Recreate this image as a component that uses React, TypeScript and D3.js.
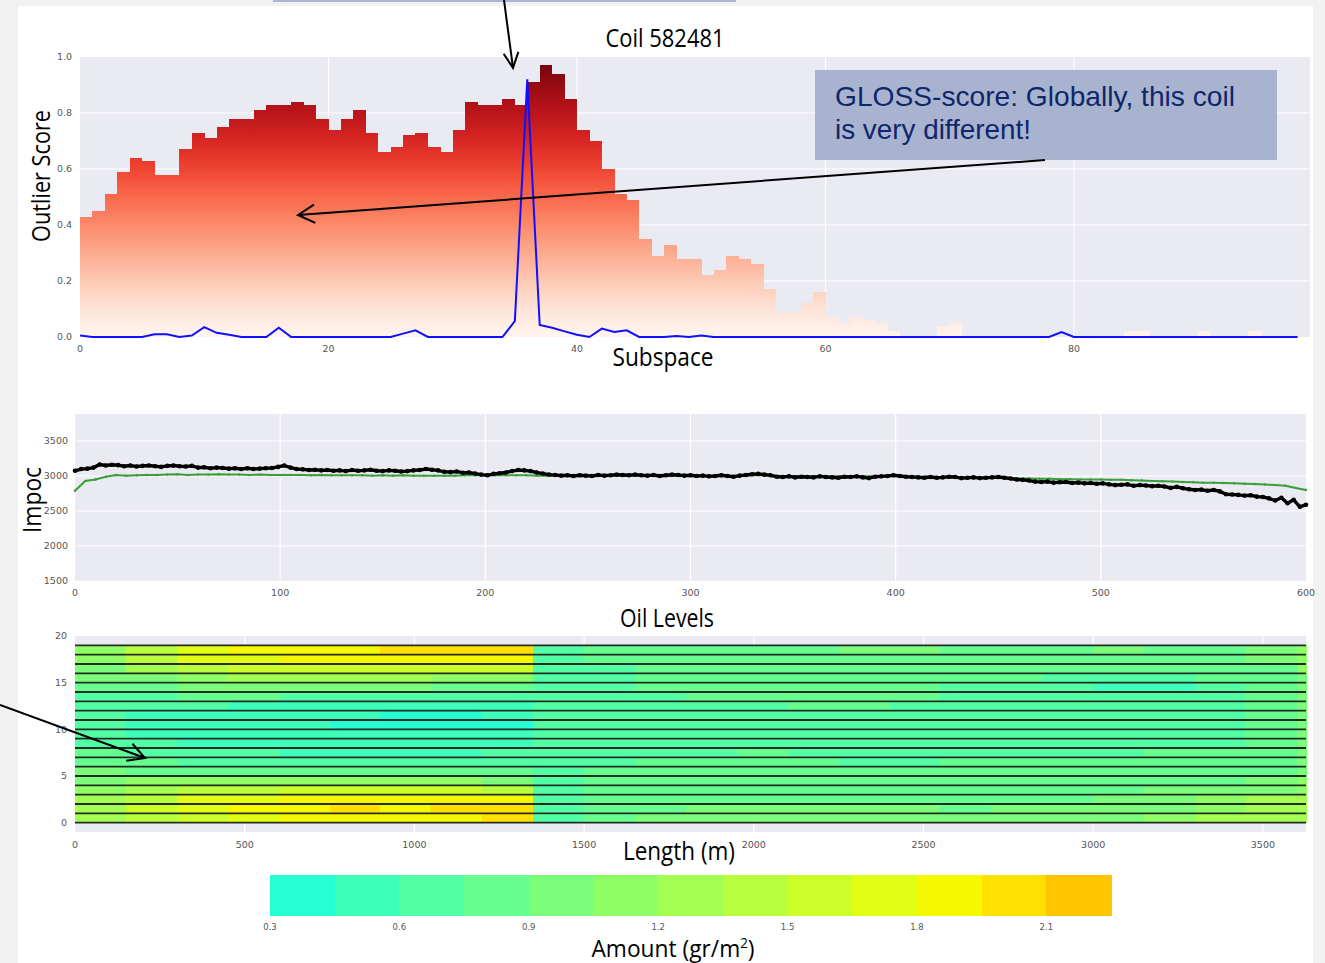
import React from 'react';
import * as d3 from 'd3';

// top panel: outlier score per subspace (bars) and single-subspace score (blue line)
const subspaceScores = [
  0.43, 0.45, 0.51, 0.59, 0.64, 0.63, 0.58, 0.58, 0.67, 0.73,
  0.71, 0.75, 0.78, 0.78, 0.81, 0.83, 0.83, 0.84, 0.83, 0.78,
  0.74, 0.78, 0.81, 0.73, 0.66, 0.68, 0.72, 0.73, 0.68, 0.66,
  0.74, 0.84, 0.83, 0.83, 0.85, 0.83, 0.91, 0.97, 0.94, 0.85,
  0.74, 0.70, 0.60, 0.51, 0.49, 0.35, 0.29, 0.33, 0.28, 0.28,
  0.22, 0.24, 0.29, 0.28, 0.26, 0.17, 0.09, 0.09, 0.12, 0.16,
  0.07, 0.05, 0.07, 0.06, 0.05, 0.02, 0.005, 0, 0, 0.04,
  0.05, 0, 0, 0, 0, 0, 0, 0, 0, 0,
  0, 0, 0, 0, 0.02, 0.02, 0, 0, 0, 0,
  0.02, 0, 0, 0, 0.02, 0, 0, 0, 0,
];
const singleScores = [
  0.005, 0, 0, 0, 0, 0, 0.01, 0.01, 0, 0.005,
  0.035, 0.015, 0.008, 0, 0, 0, 0.033, 0, 0, 0,
  0, 0, 0, 0, 0, 0, 0.012, 0.024, 0, 0,
  0, 0, 0, 0, 0, 0.057, 0.92, 0.043, 0.033, 0.02,
  0.008, 0, 0.03, 0.018, 0.024, 0, 0, 0, 0.004, 0,
  0.005, 0, 0, 0, 0, 0, 0, 0, 0, 0,
  0, 0, 0, 0, 0, 0, 0, 0, 0, 0,
  0, 0, 0, 0, 0, 0, 0, 0, 0, 0.018,
  0, 0, 0, 0, 0, 0, 0, 0, 0, 0,
  0, 0, 0, 0, 0, 0, 0, 0, 0,
];
const scoreTicks = [0, 0.2, 0.4, 0.6, 0.8, 1.0];
const subspaceTicks = [0, 20, 40, 60, 80];

// middle panel: impoc along the coil (black = this coil, green = reference)
const impocStepBlack = 3;
const impocBlack = [
  3075, 3100, 3105, 3120, 3165, 3150, 3160, 3155, 3140, 3150,
  3135, 3145, 3150, 3140, 3130, 3145, 3150, 3140, 3135, 3145,
  3120, 3125, 3110, 3120, 3115, 3105, 3110, 3100, 3110, 3100,
  3105, 3110, 3115, 3130, 3150, 3120, 3100, 3095, 3085, 3090,
  3080, 3085, 3075, 3080, 3070, 3085, 3075, 3080, 3090, 3075,
  3070, 3080, 3075, 3065, 3070, 3080, 3085, 3100, 3090, 3080,
  3060, 3055, 3065, 3045, 3050, 3035, 3020, 3010, 3030, 3040,
  3050, 3070, 3085, 3080, 3070, 3050, 3035, 3020, 3015, 3005,
  3010, 3000, 3010, 3005, 3000, 3015, 3005, 3010, 3020, 3015,
  3010, 3020, 3010, 3005, 3015, 3000, 3010, 3020, 3015, 3005,
  3010, 3000, 3005, 2995, 3000, 3010, 3000, 2990, 3005, 3015,
  3025, 3030, 3020, 3010, 2990, 2985, 2995, 2980, 2990, 2985,
  2980, 2995, 2985, 2980, 2975, 2990, 2985, 2995, 2980, 2970,
  2990, 2995, 3000, 3010, 3000, 2990, 2985, 2980, 2975, 2985,
  2975, 2980, 2990, 2985, 2970, 2975, 2980, 2970, 2975, 2980,
  2985, 2975, 2965, 2950, 2945, 2935, 2920, 2915, 2920, 2905,
  2910, 2915, 2900, 2905, 2895, 2900, 2890, 2895, 2880, 2870,
  2875, 2880, 2860, 2870, 2865, 2855, 2860, 2850, 2830, 2845,
  2825, 2810, 2800, 2805, 2790, 2800, 2780, 2740, 2735, 2730,
  2720, 2725, 2705, 2700, 2680, 2650, 2690, 2610, 2660, 2560,
  2590,
];
const impocStepGreen = 5;
const impocGreen = [
  2790, 2930, 2950, 2990, 3015, 3005, 3010, 3015, 3015, 3020,
  3025, 3015, 3020, 3020, 3025, 3020, 3020, 3015, 3020, 3015,
  3015, 3015, 3015, 3010, 3015, 3010, 3010, 3010, 3010, 3005,
  3010, 3005, 3010, 3005, 3005, 3005, 3005, 3005, 3010, 3010,
  3010, 3010, 3010, 3010, 3010, 3005, 3005, 3005, 3005, 3005,
  3005, 3005, 3005, 3005, 3005, 3005, 3005, 3005, 3000, 3000,
  3000, 3000, 3000, 3000, 3000, 3005, 3010, 3010, 3005, 3000,
  3000, 3000, 2995, 2995, 2995, 2995, 2995, 2995, 2995, 3000,
  3000, 2995, 2990, 2990, 2985, 2985, 2980, 2980, 2975, 2975,
  2970, 2970, 2965, 2965, 2960, 2960, 2955, 2955, 2950, 2950,
  2950, 2945, 2945, 2940, 2935, 2930, 2925, 2920, 2915, 2910,
  2905, 2905, 2900, 2895, 2890, 2885, 2880, 2870, 2860, 2830,
  2800,
];
const impocYTicks = [1500, 2000, 2500, 3000, 3500];
const impocXTicks = [0, 100, 200, 300, 400, 500, 600];

// bottom panel: oil amount per track (rows, bottom to top) and length segment
const lengthEdges = [
  0, 150, 300, 450, 600, 750, 900, 1050, 1200, 1350, 1500, 1650, 1800,
  1950, 2100, 2250, 2400, 2550, 2700, 2850, 3000, 3150, 3300, 3450, 3600, 3627,
];
const oilLevels = [
  [1.2, 1.4, 1.6, 1.7, 1.85, 1.9, 1.85, 1.9, 1.95, 0.65, 0.85, 0.9, 0.9, 0.9, 0.9, 0.9, 0.9, 0.9, 0.9, 0.95, 1.0, 1.1, 1.2, 1.25, 1.2],
  [1.3, 1.5, 1.7, 1.8, 1.9, 1.95, 1.9, 1.95, 2.0, 0.6, 0.8, 0.85, 0.9, 0.9, 0.9, 0.9, 0.9, 0.85, 0.9, 0.9, 0.95, 1.0, 1.15, 1.3, 1.3],
  [1.25, 1.45, 1.65, 1.75, 1.8, 1.85, 1.85, 1.85, 1.8, 0.6, 0.8, 0.85, 0.85, 0.85, 0.85, 0.85, 0.85, 0.85, 0.85, 0.85, 0.9, 0.95, 1.1, 1.2, 1.25],
  [1.15, 1.3, 1.4, 1.45, 1.5, 1.55, 1.55, 1.5, 1.45, 0.6, 0.75, 0.8, 0.85, 0.85, 0.85, 0.85, 0.85, 0.85, 0.85, 0.85, 0.85, 0.9, 0.95, 1.0, 1.15],
  [1.0, 1.05, 1.05, 1.1, 1.1, 1.1, 1.1, 1.05, 1.0, 0.6, 0.75, 0.8, 0.8, 0.8, 0.8, 0.8, 0.8, 0.8, 0.8, 0.8, 0.85, 0.85, 0.85, 0.9, 1.05],
  [0.9, 0.85, 0.8, 0.8, 0.75, 0.75, 0.75, 0.75, 0.8, 0.6, 0.75, 0.75, 0.8, 0.8, 0.8, 0.75, 0.75, 0.8, 0.8, 0.8, 0.8, 0.8, 0.8, 0.85, 1.0],
  [0.8, 0.75, 0.7, 0.65, 0.65, 0.6, 0.6, 0.6, 0.65, 0.6, 0.7, 0.75, 0.75, 0.75, 0.75, 0.7, 0.7, 0.75, 0.75, 0.75, 0.75, 0.75, 0.8, 0.8, 0.95],
  [0.75, 0.65, 0.6, 0.6, 0.55, 0.55, 0.55, 0.55, 0.6, 0.6, 0.7, 0.7, 0.7, 0.75, 0.7, 0.7, 0.7, 0.7, 0.7, 0.7, 0.7, 0.75, 0.75, 0.8, 0.95],
  [0.7, 0.6, 0.55, 0.55, 0.5, 0.5, 0.5, 0.5, 0.55, 0.6, 0.7, 0.7, 0.7, 0.7, 0.7, 0.7, 0.7, 0.7, 0.7, 0.7, 0.7, 0.7, 0.7, 0.75, 0.9],
  [0.65, 0.55, 0.5, 0.5, 0.5, 0.45, 0.45, 0.45, 0.5, 0.6, 0.65, 0.7, 0.7, 0.7, 0.7, 0.7, 0.7, 0.7, 0.7, 0.7, 0.7, 0.7, 0.7, 0.75, 0.9],
  [0.6, 0.5, 0.5, 0.45, 0.45, 0.4, 0.4, 0.4, 0.4, 0.6, 0.65, 0.65, 0.7, 0.7, 0.7, 0.7, 0.7, 0.7, 0.7, 0.7, 0.7, 0.7, 0.7, 0.75, 0.9],
  [0.6, 0.55, 0.5, 0.5, 0.45, 0.45, 0.4, 0.4, 0.45, 0.6, 0.65, 0.7, 0.7, 0.7, 0.7, 0.7, 0.7, 0.7, 0.7, 0.7, 0.7, 0.7, 0.7, 0.75, 0.9],
  [0.65, 0.6, 0.6, 0.55, 0.55, 0.5, 0.5, 0.45, 0.5, 0.6, 0.65, 0.7, 0.7, 0.7, 0.75, 0.75, 0.7, 0.7, 0.7, 0.7, 0.7, 0.7, 0.7, 0.75, 0.9],
  [0.7, 0.7, 0.75, 0.75, 0.7, 0.7, 0.65, 0.6, 0.6, 0.6, 0.7, 0.7, 0.75, 0.75, 0.75, 0.75, 0.75, 0.7, 0.7, 0.65, 0.6, 0.6, 0.65, 0.75, 0.95],
  [0.8, 0.85, 0.9, 0.95, 0.95, 0.95, 0.9, 0.85, 0.8, 0.6, 0.7, 0.75, 0.75, 0.75, 0.8, 0.75, 0.75, 0.7, 0.65, 0.6, 0.55, 0.55, 0.6, 0.75, 0.95],
  [0.9, 1.0, 1.1, 1.2, 1.2, 1.25, 1.2, 1.15, 1.1, 0.6, 0.7, 0.75, 0.8, 0.8, 0.8, 0.8, 0.8, 0.8, 0.75, 0.7, 0.7, 0.7, 0.75, 0.8, 1.0],
  [0.95, 1.2, 1.4, 1.5, 1.55, 1.6, 1.6, 1.55, 1.5, 0.6, 0.7, 0.8, 0.8, 0.8, 0.8, 0.8, 0.85, 0.8, 0.8, 0.8, 0.8, 0.8, 0.8, 0.85, 1.1],
  [1.05, 1.35, 1.65, 1.75, 1.85, 1.85, 1.85, 1.9, 1.85, 0.6, 0.75, 0.8, 0.8, 0.8, 0.85, 0.85, 0.85, 0.85, 0.8, 0.85, 0.85, 0.85, 0.8, 0.9, 1.15],
  [1.15, 1.45, 1.7, 1.8, 1.85, 1.9, 1.95, 2.0, 1.95, 0.6, 0.75, 0.8, 0.85, 0.85, 0.85, 0.9, 0.9, 0.85, 0.85, 0.85, 0.9, 0.85, 0.85, 0.9, 1.1],
];
const amountBreaks = [0.45, 0.6, 0.75, 0.9, 1.05, 1.2, 1.35, 1.5, 1.65, 1.8, 1.95, 2.1];
const amountColors = [
  '#26FFD4', '#3DFFBA', '#52FFA5', '#66FF8F', '#7BFF7B', '#8FFF66', '#A3FF52',
  '#B8FF3D', '#CCFF29', '#E0FF14', '#F4F800', '#FFE000', '#FFC500',
];
const amountTicks = [0.3, 0.6, 0.9, 1.2, 1.5, 1.8, 2.1];
const lengthTicks = [0, 500, 1000, 1500, 2000, 2500, 3000, 3500];
const trackTicks = [0, 5, 10, 15, 20];

const tickStyle = { fontFamily: 'DejaVu Sans, sans-serif', fontSize: 9.5, fill: '#555' };
const titleFont = 'Open Sans, sans-serif';

// open V arrow, head at the end point
function arrow(x1, y1, x2, y2, len = 19, spread = 0.5) {
  const a = Math.atan2(y1 - y2, x1 - x2);
  const h1 = [x2 + len * Math.cos(a + spread), y2 + len * Math.sin(a + spread)];
  const h2 = [x2 + len * Math.cos(a - spread), y2 + len * Math.sin(a - spread)];
  return `M${x1},${y1}L${x2},${y2}M${h1[0]},${h1[1]}L${x2},${y2}L${h2[0]},${h2[1]}`;
}

function ScorePanel() {
  const x = d3.scaleLinear().domain([0, 99]).range([80, 1310]);
  const y = d3.scaleLinear().domain([0, 1]).range([337, 57]);
  const line = d3
    .line<number>()
    .x((d, i) => x(i))
    .y((d) => y(d));
  const stops = d3.range(0, 1.01, 0.1);

  return (
    <g>
      <defs>
        <linearGradient id="reds" gradientUnits="userSpaceOnUse" x1={0} x2={0} y1={y(0)} y2={y(1)}>
          {stops.map((t) => (
            <stop key={t} offset={t} stopColor={d3.interpolateReds(t)} />
          ))}
        </linearGradient>
      </defs>
      <rect x={x(0)} y={y(1)} width={x(99) - x(0)} height={y(0) - y(1)} fill="#EAEAF2" />
      {scoreTicks.slice(1, -1).map((t) => (
        <line key={t} x1={x(0)} x2={x(99)} y1={y(t)} y2={y(t)} stroke="#fff" strokeWidth={1.2} />
      ))}
      {subspaceTicks.slice(1).map((t) => (
        <line key={t} x1={x(t)} x2={x(t)} y1={y(0)} y2={y(1)} stroke="#fff" strokeWidth={1.2} />
      ))}
      {subspaceScores.map((v, i) =>
        v > 0 ? (
          <rect
            key={i}
            x={x(i)}
            y={y(v)}
            width={x(i + 1) - x(i) + 0.3}
            height={y(0) - y(v)}
            fill="url(#reds)"
            shapeRendering="crispEdges"
          />
        ) : null
      )}
      <path d={line(singleScores)} fill="none" stroke="#1010ff" strokeWidth={2} />
      {scoreTicks.map((t) => (
        <text key={t} x={72} y={y(t)} dy="0.35em" textAnchor="end" {...tickStyle}>
          {t.toFixed(1)}
        </text>
      ))}
      {subspaceTicks.map((t) => (
        <text key={t} x={x(t)} y={349} dy="0.35em" textAnchor="middle" {...tickStyle}>
          {t}
        </text>
      ))}
      <text x={665} y={47} textAnchor="middle" fontFamily={titleFont} fontSize={25} textLength={119} lengthAdjust="spacingAndGlyphs">
        Coil 582481
      </text>
      <text x={663} y={366} textAnchor="middle" fontFamily={titleFont} fontSize={25} textLength={101} lengthAdjust="spacingAndGlyphs">
        Subspace
      </text>
      <text
        transform="translate(50,176) rotate(-90)"
        textAnchor="middle"
        fontFamily={titleFont}
        fontSize={25}
        textLength={132}
        lengthAdjust="spacingAndGlyphs"
      >
        Outlier Score
      </text>
    </g>
  );
}

function ImpocPanel() {
  const x = d3.scaleLinear().domain([0, 600]).range([75, 1306]);
  const y = d3.scaleLinear().domain([1500, 3886]).range([581, 414]);
  const black = impocBlack.map((v, i) => [i * impocStepBlack, v]);
  const green = impocGreen.map((v, i) => [i * impocStepGreen, v]);
  const line = d3
    .line<number[]>()
    .x((d) => x(d[0]))
    .y((d) => y(d[1]));

  return (
    <g>
      <rect x={x(0)} y={y(3886)} width={x(600) - x(0)} height={y(1500) - y(3886)} fill="#EAEAF2" />
      {impocYTicks.slice(1).map((t) => (
        <line key={t} x1={x(0)} x2={x(600)} y1={y(t)} y2={y(t)} stroke="#fff" strokeWidth={1.2} />
      ))}
      {impocXTicks.slice(1, -1).map((t) => (
        <line key={t} x1={x(t)} x2={x(t)} y1={y(1500)} y2={y(3886)} stroke="#fff" strokeWidth={1.2} />
      ))}
      <path d={line(green)} fill="none" stroke="#3a9e3a" strokeWidth={2} />
      {green.map((d, i) => (
        <circle key={i} cx={x(d[0])} cy={y(d[1])} r={1.2} fill="#3a9e3a" />
      ))}
      <path d={line(black)} fill="none" stroke="#000" strokeWidth={3.4} strokeLinejoin="round" />
      {black.map((d, i) => (
        <circle key={i} cx={x(d[0])} cy={y(d[1])} r={2.3} fill="#000" />
      ))}
      {impocYTicks.map((t) => (
        <text key={t} x={68} y={y(t)} dy="0.35em" textAnchor="end" {...tickStyle}>
          {t}
        </text>
      ))}
      {impocXTicks.map((t) => (
        <text key={t} x={x(t)} y={593} dy="0.35em" textAnchor="middle" {...tickStyle}>
          {t}
        </text>
      ))}
      <text
        transform="translate(41,500) rotate(-90)"
        textAnchor="middle"
        fontFamily={titleFont}
        fontSize={25}
        textLength={66}
        lengthAdjust="spacingAndGlyphs"
      >
        Impoc
      </text>
    </g>
  );
}

function OilPanel() {
  const x = d3.scaleLinear().domain([0, 3627]).range([75, 1306]);
  const y = d3.scaleLinear().domain([-1, 20]).range([832, 636]);
  const color = d3.scaleThreshold<number, string>().domain(amountBreaks).range(amountColors);
  const xc = d3.scaleLinear().domain([0.3, 2.25]).range([270, 1111]);
  const bands = d3.range(amountColors.length);

  return (
    <g>
      <rect x={x(0)} y={y(20)} width={x(3627) - x(0)} height={y(-1) - y(20)} fill="#EAEAF2" />
      {lengthTicks.slice(1).map((t) => (
        <line key={t} x1={x(t)} x2={x(t)} y1={y(-1)} y2={y(20)} stroke="#fff" strokeWidth={1.2} />
      ))}
      {oilLevels.map((row, r) =>
        row.map((v, c) => (
          <rect
            key={`${r}-${c}`}
            x={x(lengthEdges[c])}
            y={y(r + 1)}
            width={x(lengthEdges[c + 1]) - x(lengthEdges[c]) + 0.5}
            height={y(r) - y(r + 1) + 0.5}
            fill={color(v)}
            shapeRendering="crispEdges"
          />
        ))
      )}
      {d3.range(0, 20).map((k) => (
        <line
          key={k}
          x1={x(0)}
          x2={x(3627)}
          y1={y(k)}
          y2={y(k)}
          stroke="#1a1a1a"
          strokeWidth={1.8}
          strokeOpacity={0.92}
        />
      ))}
      {trackTicks.map((t) => (
        <text key={t} x={67} y={y(t)} dy="0.35em" textAnchor="end" {...tickStyle}>
          {t}
        </text>
      ))}
      {lengthTicks.map((t) => (
        <text key={t} x={x(t)} y={845} dy="0.35em" textAnchor="middle" {...tickStyle}>
          {t}
        </text>
      ))}
      <text x={667} y={627} textAnchor="middle" fontFamily={titleFont} fontSize={25} textLength={94} lengthAdjust="spacingAndGlyphs">
        Oil Levels
      </text>
      <text x={679} y={860} textAnchor="middle" fontFamily={titleFont} fontSize={25} textLength={112} lengthAdjust="spacingAndGlyphs">
        Length (m)
      </text>

      {/* colour bar */}
      {bands.map((b) => (
        <rect
          key={b}
          x={xc(0.3 + b * 0.15)}
          y={875}
          width={xc(0.45) - xc(0.3) + 0.5}
          height={41}
          fill={amountColors[b]}
          shapeRendering="crispEdges"
        />
      ))}
      {amountTicks.map((t) => (
        <text key={t} x={xc(t)} y={927} dy="0.35em" textAnchor="middle" fontFamily="DejaVu Sans, sans-serif" fontSize={8.5} fill="#555">
          {t.toFixed(1)}
        </text>
      ))}
      <text x={673} y={957} textAnchor="middle" fontFamily={titleFont} fontSize={24} textLength={163} lengthAdjust="spacingAndGlyphs">
        Amount (gr/m<tspan fontSize={14} dy={-9}>2</tspan>
        <tspan dy={9}>)</tspan>
      </text>
    </g>
  );
}

export default function App() {
  return (
    <svg width={1325} height={963} style={{ position: 'absolute', left: 0, top: 0, background: '#fff' }}>
      <rect x={0} y={0} width={1325} height={963} fill="#f1f1f1" />
      <rect x={18} y={6} width={1295} height={957} fill="#fff" />
      <rect x={273} y={0} width={463} height={2} fill="#a9b6d6" />

      <ScorePanel />
      <ImpocPanel />
      <OilPanel />

      {/* annotation box */}
      <rect x={815} y={70} width={462} height={90} fill="#A8B4CF" />
      <text x={835} y={106} fontFamily="Liberation Sans, sans-serif" fontSize={28} fill="#10266b" textLength={400} lengthAdjust="spacingAndGlyphs">
        GLOSS-score: Globally, this coil
      </text>
      <text x={835} y={139} fontFamily="Liberation Sans, sans-serif" fontSize={28} fill="#10266b" textLength={196} lengthAdjust="spacingAndGlyphs">
        is very different!
      </text>

      <path d={arrow(1045, 160, 298, 215)} fill="none" stroke="#000" strokeWidth={2} />
      <path d={arrow(504, 0, 513, 68, 17, 0.45)} fill="none" stroke="#000" strokeWidth={2} />
      <path d={arrow(0, 705, 145, 758)} fill="none" stroke="#000" strokeWidth={2} />
    </svg>
  );
}
